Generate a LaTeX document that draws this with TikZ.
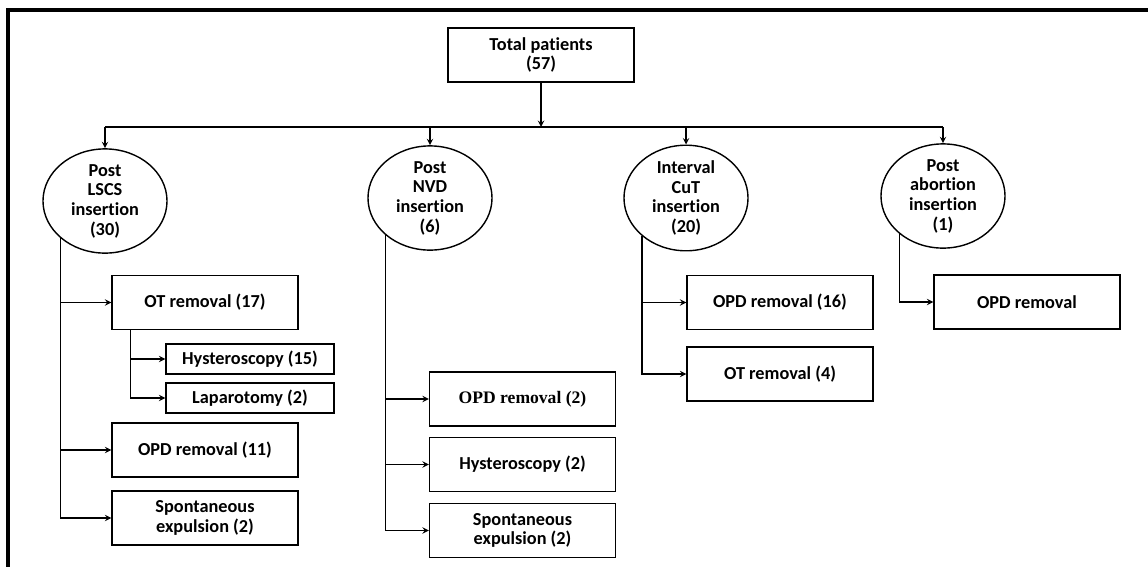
\documentclass[tikz,border=0pt]{standalone}
\usepackage{fontspec}
\setmainfont{Carlito}[Ligatures=NoCommon]
\newfontfamily\serifface{Liberation Serif}
\usepackage{tikz}
\usetikzlibrary{shapes, arrows, positioning, calc}

\begin{document}
\begin{tikzpicture}[
    x=0.025cm, y=-0.025cm,
    txt/.style={font=\bfseries\fontsize{13}{14}\selectfont, align=center},
    stepbox/.style={txt, rectangle, draw, line width=1pt, minimum width=4.65cm, minimum height=1.35cm, inner sep=2pt},
    smallbox/.style={txt, rectangle, draw, line width=1pt, minimum width=4.2cm, minimum height=0.75cm, inner sep=1pt},
    group/.style={txt, ellipse, draw, line width=1pt, minimum width=3.1cm, minimum height=2.55cm, inner sep=0pt},
    arrow/.style={->, >=stealth, line width=1pt},
    link/.style={line width=1pt}
]
    \useasboundingbox (0,0) rectangle (1148,567);
    % Frame
    \draw[line width=2.2pt] (1148,10) -- (8,10) -- (8,567);

    % Total
    \node[stepbox] (total) at (541, 55) {Total patients\\(57)};

    % Groups
    \node[group] (lscs) at (105, 201) {Post\\LSCS\\insertion\\(30)};
    \node[group] (nvd) at (430, 198) {Post\\NVD\\insertion\\(6)};
    \node[group] (cut) at (686, 198) {Interval\\CuT\\insertion\\(20)};
    \node[group] (abort) at (943, 196) {Post\\abortion\\insertion\\(1)};

    % Post LSCS outcomes
    \node[stepbox] (ot1) at (205, 302.5) {OT removal (17)};
    \node[smallbox] (hys1) at (250, 359) {Hysteroscopy (15)};
    \node[smallbox] (lap1) at (250, 398) {Laparotomy (2)};
    \node[stepbox] (opd1) at (205, 450) {OPD removal (11)};
    \node[stepbox] (spon1) at (205, 518) {Spontaneous\\expulsion (2)};

    % Post NVD outcomes
    \node[stepbox, font=\serifface\bfseries\fontsize{12.5}{14}\selectfont] (opd2) at (522.5, 399) {OPD removal (2)};
    \node[stepbox] (hys2) at (522.5, 464.5) {Hysteroscopy (2)};
    \node[stepbox] (spon2) at (522.5, 530.5) {Spontaneous\\expulsion (2)};

    % Interval CuT outcomes
    \node[stepbox] (opd3) at (780, 302.5) {OPD removal (16)};
    \node[stepbox] (ot3) at (780, 374) {OT removal (4)};

    % Post abortion outcome
    \node[stepbox] (opd4) at (1027, 302) {OPD removal};

    % Arrows
    \coordinate (busL) at (105, 127);
    \coordinate (busR) at (943, 127);
    \draw[link] (busL) -- (busR);
    \draw[arrow] (total.south) -- (total.south |- busL);
    \foreach \g in {lscs, nvd, cut, abort}
        \draw[arrow] (\g |- busL) -- (\g.north);

    \foreach \b in {ot1, opd1, spon1}
        \draw[arrow] (lscs.220) |- (\b.west);
    \foreach \b in {hys1, lap1}
        \draw[arrow] ($(ot1.south west)+(19,0)$) |- (\b.west);
    \foreach \b in {opd2, hys2, spon2}
        \draw[arrow] (nvd.220) |- (\b.west);
    \foreach \b in {opd3, ot3}
        \draw[arrow] (cut.221) |- (\b.west);
    \draw[arrow] (abort.221) |- (opd4.west);
\end{tikzpicture}
\end{document}
